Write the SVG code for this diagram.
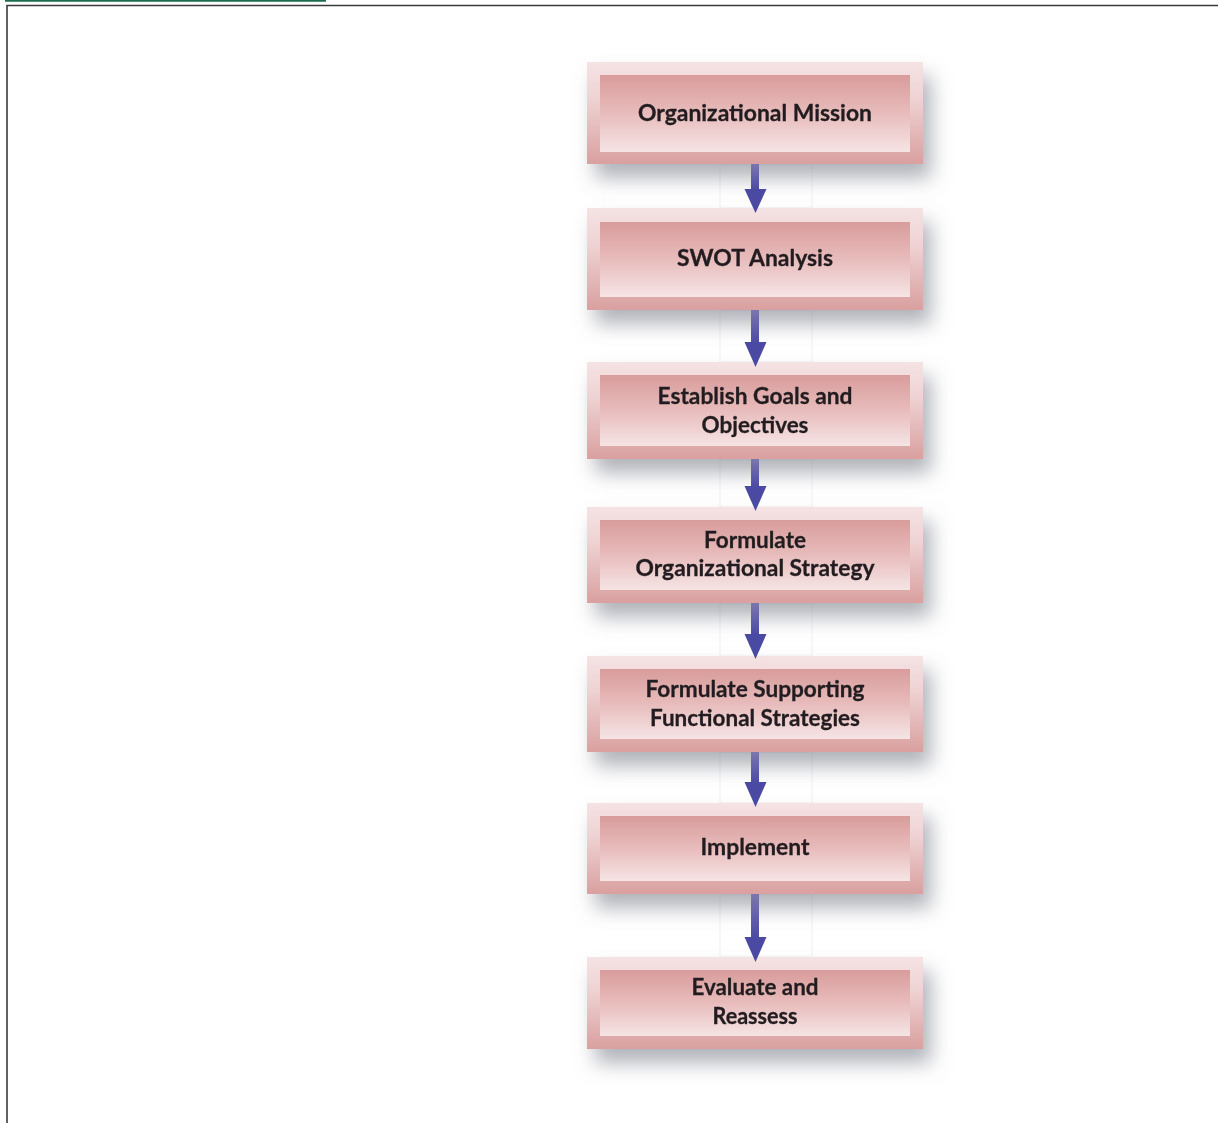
<svg xmlns="http://www.w3.org/2000/svg" width="1218" height="1123" viewBox="0 0 1218 1123">
<style>
.outer{fill:url(#gOuter)}
.inner{fill:url(#gInner)}
.lbl{font-family:Lato,"Open Sans","Liberation Sans",sans-serif;font-weight:700;font-size:23px;fill:#231f20;text-anchor:middle;stroke:#231f20;stroke-width:0.3}
.shaft{fill:url(#gShaft)}
.head{fill:#4b4aa3}
.guide{fill:none;stroke:#eeeff3;stroke-width:1}
</style>
<defs>
<linearGradient id="gOuter" x1="0" y1="0" x2="0" y2="1">
<stop offset="0" stop-color="#f5e3e4"/>
<stop offset="0.35" stop-color="#efd3d4"/>
<stop offset="1" stop-color="#d9a09f"/>
</linearGradient>
<linearGradient id="gInner" x1="0" y1="0" x2="0" y2="1">
<stop offset="0" stop-color="#d89c9b"/>
<stop offset="0.5" stop-color="#e8bcbc"/>
<stop offset="1" stop-color="#f6e4e5"/>
</linearGradient>
<linearGradient id="gShaft" x1="0" y1="0" x2="0" y2="1">
<stop offset="0" stop-color="#7b77ad"/>
<stop offset="1" stop-color="#4b4aa3"/>
</linearGradient>
<filter id="shadow" x="-10%" y="-25%" width="135%" height="180%">
<feGaussianBlur in="SourceAlpha" stdDeviation="10"/>
<feOffset dx="8" dy="14" result="b"/>
<feFlood flood-color="#6f7480" flood-opacity="0.55"/>
<feComposite in2="b" operator="in" result="s"/>
<feMerge><feMergeNode in="s"/><feMergeNode in="SourceGraphic"/></feMerge>
</filter>
</defs>
<rect width="1218" height="1123" fill="#ffffff"/>
<g id="frame">
<line x1="5" y1="0.8" x2="326" y2="0.8" stroke="#1d6b4d" stroke-width="2"/>
<polyline points="7,1123 7,5.5 1218,5.5" fill="none" stroke="#3a3a3a" stroke-width="1.6"/>
</g>
<g id="guides">
<rect class="guide" x="720" y="164" width="92" height="44"/>
<rect class="guide" x="720" y="310" width="92" height="52"/>
<rect class="guide" x="720" y="459" width="92" height="48"/>
<rect class="guide" x="720" y="603" width="92" height="53"/>
<rect class="guide" x="720" y="752" width="92" height="51"/>
<rect class="guide" x="720" y="894" width="92" height="63"/>
</g>
<g id="n1" filter="url(#shadow)">
<rect class="outer" x="587" y="62" width="336" height="102"/>
<rect class="inner" x="600" y="75" width="310" height="77"/>
<text class="lbl" x="755" y="121" textLength="234" lengthAdjust="spacingAndGlyphs">Organizational Mission</text>
</g>
<g id="n2" filter="url(#shadow)">
<rect class="outer" x="587" y="208" width="336" height="102"/>
<rect class="inner" x="600" y="222" width="310" height="75"/>
<text class="lbl" x="755" y="266" textLength="156" lengthAdjust="spacingAndGlyphs">SWOT Analysis</text>
</g>
<g id="n3" filter="url(#shadow)">
<rect class="outer" x="587" y="362" width="336" height="97"/>
<rect class="inner" x="600" y="375" width="310" height="71"/>
<text class="lbl" x="755" y="404" textLength="195" lengthAdjust="spacingAndGlyphs">Establish Goals and</text>
<text class="lbl" x="755" y="433" textLength="107" lengthAdjust="spacingAndGlyphs">Objectives</text>
</g>
<g id="n4" filter="url(#shadow)">
<rect class="outer" x="587" y="507" width="336" height="96"/>
<rect class="inner" x="600" y="520" width="310" height="70"/>
<text class="lbl" x="755" y="548" textLength="102" lengthAdjust="spacingAndGlyphs">Formulate</text>
<text class="lbl" x="755" y="576" textLength="239" lengthAdjust="spacingAndGlyphs">Organizational Strategy</text>
</g>
<g id="n5" filter="url(#shadow)">
<rect class="outer" x="587" y="656" width="336" height="96"/>
<rect class="inner" x="600" y="669" width="310" height="70"/>
<text class="lbl" x="755" y="697" textLength="219" lengthAdjust="spacingAndGlyphs">Formulate Supporting</text>
<text class="lbl" x="755" y="726" textLength="210" lengthAdjust="spacingAndGlyphs">Functional Strategies</text>
</g>
<g id="n6" filter="url(#shadow)">
<rect class="outer" x="587" y="803" width="336" height="91"/>
<rect class="inner" x="600" y="816" width="310" height="65"/>
<text class="lbl" x="755" y="855" textLength="109" lengthAdjust="spacingAndGlyphs">Implement</text>
</g>
<g id="n7" filter="url(#shadow)">
<rect class="outer" x="587" y="957" width="336" height="92"/>
<rect class="inner" x="600" y="970" width="310" height="66"/>
<text class="lbl" x="755" y="995" textLength="127" lengthAdjust="spacingAndGlyphs">Evaluate and</text>
<text class="lbl" x="755" y="1024" textLength="85" lengthAdjust="spacingAndGlyphs">Reassess</text>
</g>
<g id="connectors">
<rect class="shaft" x="751" y="164" width="8" height="26"/>
<polygon class="head" points="744.5,189 766.5,189 755.5,213"/>
<rect class="shaft" x="751" y="310" width="8" height="33"/>
<polygon class="head" points="744.5,342 766.5,342 755.5,367"/>
<rect class="shaft" x="751" y="459" width="8" height="28"/>
<polygon class="head" points="744.5,486 766.5,486 755.5,511"/>
<rect class="shaft" x="751" y="603" width="8" height="32"/>
<polygon class="head" points="744.5,634 766.5,634 755.5,659"/>
<rect class="shaft" x="751" y="752" width="8" height="31"/>
<polygon class="head" points="744.5,782 766.5,782 755.5,807"/>
<rect class="shaft" x="751" y="894" width="8" height="44"/>
<polygon class="head" points="744.5,937 766.5,937 755.5,962"/>
</g>
</svg>
